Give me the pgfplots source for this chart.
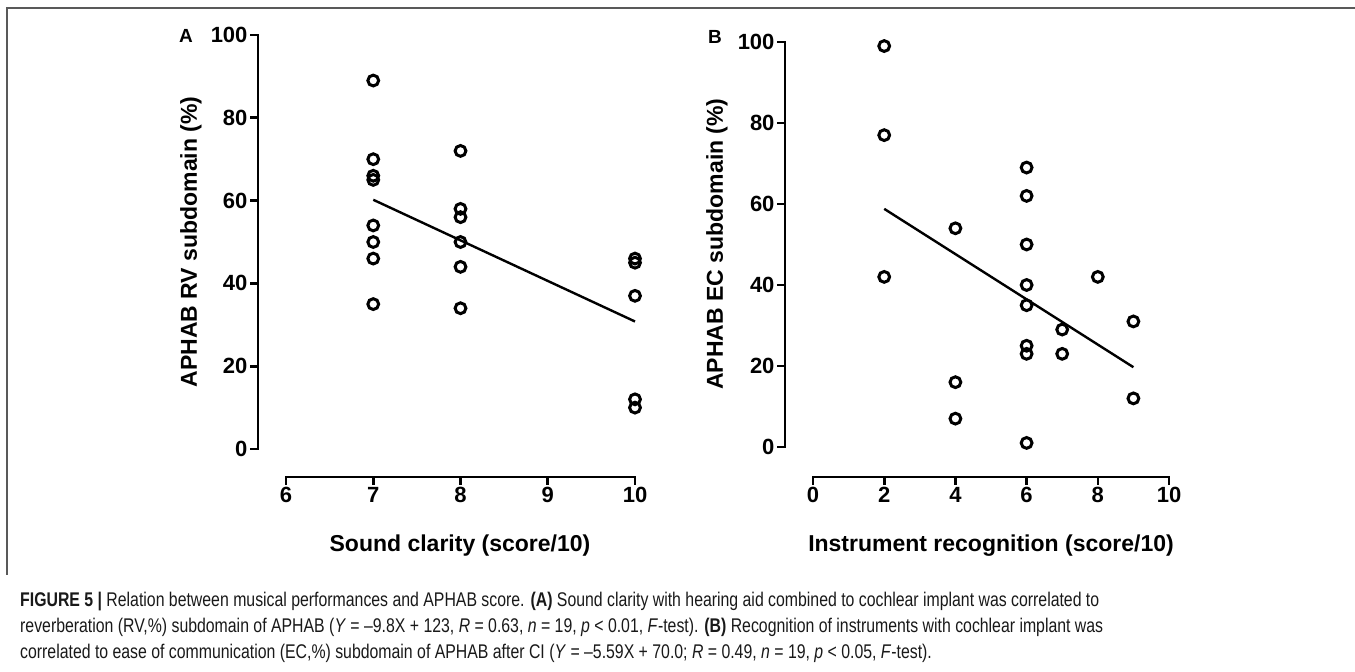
\documentclass[border=0pt]{standalone}
\usepackage{fontspec}
\setmainfont{Liberation Sans}
\newfontfamily\capfont[FakeStretch=0.80]{Liberation Sans}
\usepackage{pgfplots}
\pgfplotsset{compat=1.18}

% shared look of both panels (GraphPad style, detached axes)
\pgfplotsset{
  panel/.style={
    scale only axis, clip=false,
    axis lines*=left, axis line style={draw=none},
    tick align=outside, major tick length=7pt,
    tick style={black, line width=2.6pt, line cap=rect},
    tick label style={font=\fontsize{22}{26}\selectfont\bfseries},
    /pgf/number format/assume math mode=true,
    ymax=100, ytick={0,20,...,100},
  },
  pts/.style={only marks, mark=o, mark size=5.4pt, mark options={line width=3pt, black}},
  fit/.style={black, line width=2.4pt, no marks},
}
\tikzset{axln/.style={line width=2.6pt, line cap=rect}}

\begin{document}
\begin{tikzpicture}[x=1pt,y=1pt]
\useasboundingbox (0,0) rectangle (1355,672);

% frame of the figure box
\draw[black!65, line width=1.6pt] (1355,664) -- (7,664) -- (7,97);

% ---- panel A
\begin{axis}[panel, at={(258pt,195pt)}, anchor=south west,
  width=377pt, height=442pt,
  xmin=5.679, xmax=10, ymin=-6.76, xtick={6,7,8,9,10}]
\addplot[pts] coordinates {
  (7,89) (7,70) (7,66) (7,65) (7,54) (7,50) (7,46) (7,35)
  (8,72) (8,58) (8,56) (8,50) (8,44) (8,34)
  (10,46) (10,45) (10,37) (10,12) (10,10)};
\addplot[fit] coordinates {(7,60.2) (10,30.8)};
\draw[axln] (axis cs:5.679,0) -- (axis cs:5.679,100);
\draw[axln] (axis cs:6,-6.76) -- (axis cs:10,-6.76);
\end{axis}

% ---- panel B
\begin{axis}[panel, at={(785pt,195pt)}, anchor=south west,
  width=384pt, height=435pt,
  xmin=-0.787, xmax=10, ymin=-7.41, xtick={0,2,...,10}]
\addplot[pts] coordinates {
  (2,99) (2,77) (2,42)
  (4,54) (4,16) (4,7)
  (6,69) (6,62) (6,50) (6,40) (6,35) (6,25) (6,23) (6,1)
  (7,29) (7,23) (8,42) (9,31) (9,12)};
\addplot[fit] coordinates {(2,58.8) (9,19.7)};
\draw[axln] (axis cs:-0.787,0) -- (axis cs:-0.787,100);
\draw[axln] (axis cs:0,-7.41) -- (axis cs:10,-7.41);
\end{axis}

% panel letters and axis titles
\node[font=\fontsize{19}{22}\selectfont\bfseries] at (186,636) {A};
\node[font=\fontsize{19}{22}\selectfont\bfseries] at (715,635) {B};
\node[font=\fontsize{23}{28}\selectfont\bfseries] at (460,126) {Sound clarity (score/10)};
\node[font=\fontsize{23}{28}\selectfont\bfseries] at (991,126) {Instrument recognition (score/10)};
\node[font=\fontsize{23}{28}\selectfont\bfseries, rotate=90] at (191,430) {APHAB RV subdomain (\%)};
\node[font=\fontsize{23}{28}\selectfont\bfseries, rotate=90] at (717,428) {APHAB EC subdomain (\%)};

% caption
\begin{scope}[every node/.style={anchor=base west, inner sep=0pt, text=black!90,
    font=\capfont\fontsize{19.8}{24}\selectfont}]
\node at (20,65) {\textbf{FIGURE 5 |} Relation between musical performances and APHAB score. \textbf{(A)} Sound clarity with hearing aid combined to cochlear implant was correlated to};
\node at (20,39) {reverberation (RV,\%) subdomain of APHAB (\textit{Y} = –9.8X + 123, \textit{R} = 0.63, \textit{n} = 19, \textit{p} < 0.01, \textit{F}-test). \textbf{(B)} Recognition of instruments with cochlear implant was};
\node at (20,13) {correlated to ease of communication (EC,\%) subdomain of APHAB after CI (\textit{Y} = –5.59X + 70.0; \textit{R} = 0.49, \textit{n} = 19, \textit{p} < 0.05, \textit{F}-test).};
\end{scope}
\end{tikzpicture}
\end{document}
